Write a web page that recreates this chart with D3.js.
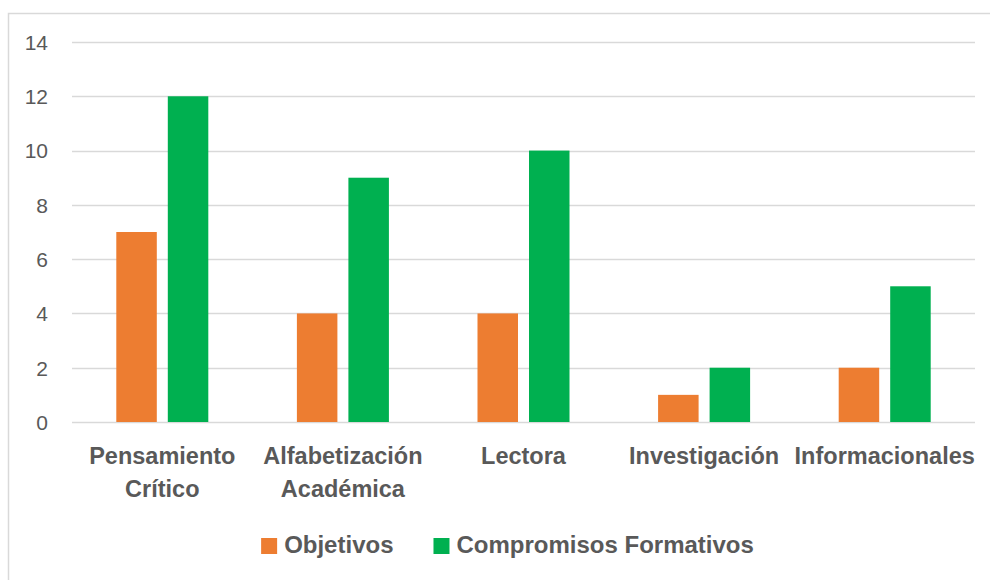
<!DOCTYPE html>
<html>
<head>
<meta charset="utf-8">
<script src="https://cdn.jsdelivr.net/npm/d3@7"></script>
<style>
  html, body { margin: 0; padding: 0; background: #fff; }
  svg { display: block; }
  text { font-family: "Liberation Sans", Arial, sans-serif; fill: #595959; }
</style>
</head>
<body>
<svg id="chart" width="990" height="580"></svg>
<script>
const categories = [["Pensamiento", "Crítico"], ["Alfabetización", "Académica"], ["Lectora"], ["Investigación"], ["Informacionales"]];
const seriesNames = ["Objetivos", "Compromisos Formativos"];
const objetivos = [7, 4, 4, 1, 2];
const compromisos = [12, 9, 10, 2, 5];
const seriesColors = ["#ED7D31", "#00B050"];
const yTicks = [0, 2, 4, 6, 8, 10, 12, 14];

const svg = d3.select("#chart");
const plot = { left: 72, right: 975, top: 42, bottom: 422 };

// outer chart border
svg.append("rect")
  .attr("x", 8.5).attr("y", 13.5)
  .attr("width", 1000).attr("height", 620)
  .attr("fill", "#fff").attr("stroke", "#D9D9D9").attr("stroke-width", 1.5);

const catKeys = categories.map(c => c.join(" "));
const x0 = d3.scaleBand().domain(catKeys).range([plot.left, plot.right]).padding(0);
const x1 = d3.scaleBand().domain(seriesNames).range([0, x0.bandwidth()])
  .paddingInner(0.2136).paddingOuter(0.86);
const y = d3.scaleLinear().domain([0, 14]).range([plot.bottom, plot.top]);

// gridlines
svg.append("g").selectAll("line").data(yTicks).join("line")
  .attr("x1", plot.left).attr("x2", plot.right)
  .attr("y1", d => Math.round(y(d)) + 0.5).attr("y2", d => Math.round(y(d)) + 0.5)
  .attr("stroke", "#D9D9D9").attr("stroke-width", 1.3);

// y axis labels
const yAxis = d3.axisLeft(y).tickValues(yTicks).tickSize(0).tickPadding(0);
const gy = svg.append("g").attr("transform", `translate(48,0)`).call(yAxis);
gy.select(".domain").remove();
gy.selectAll("text").attr("font-size", 21).attr("fill", "#595959")
  .attr("font-family", "Liberation Sans, Arial, sans-serif").attr("dy", "0.35em");

// bars
const data = catKeys.map((k, i) => ({ key: k, values: [objetivos[i], compromisos[i]] }));
const groups = svg.append("g").selectAll("g").data(data).join("g")
  .attr("transform", d => `translate(${x0(d.key)},0)`);
groups.selectAll("rect").data(d => d.values.map((v, j) => ({ name: seriesNames[j], v, j })))
  .join("rect")
  .attr("x", d => x1(d.name))
  .attr("width", x1.bandwidth())
  .attr("y", d => y(d.v))
  .attr("height", d => y(0) - y(d.v))
  .attr("fill", d => seriesColors[d.j]);

// category labels
const xl = svg.append("g");
categories.forEach((lines, i) => {
  const cx = x0(catKeys[i]) + x0.bandwidth() / 2;
  const t = xl.append("text").attr("text-anchor", "middle")
    .attr("font-size", 23.5).attr("font-weight", "bold");
  lines.forEach((ln, li) => {
    t.append("tspan").attr("x", cx).attr("y", 464 + li * 33).text(ln);
  });
});

// legend
const lg = svg.append("g");
const items = seriesNames.map((n, i) => {
  const g = lg.append("g");
  g.append("rect").attr("width", 16).attr("height", 16).attr("y", -15).attr("fill", seriesColors[i]);
  const t = g.append("text").attr("x", 23).attr("y", 0).attr("font-size", 24)
    .attr("font-weight", "bold").text(n);
  return { g, w: 23 + t.node().getComputedTextLength() };
});
const gap = 40;
const total = items.reduce((s, it) => s + it.w, 0) + gap * (items.length - 1);
let cx = 507.5 - total / 2;
items.forEach(it => {
  it.g.attr("transform", `translate(${cx},553)`);
  cx += it.w + gap;
});
</script>
</body>
</html>
